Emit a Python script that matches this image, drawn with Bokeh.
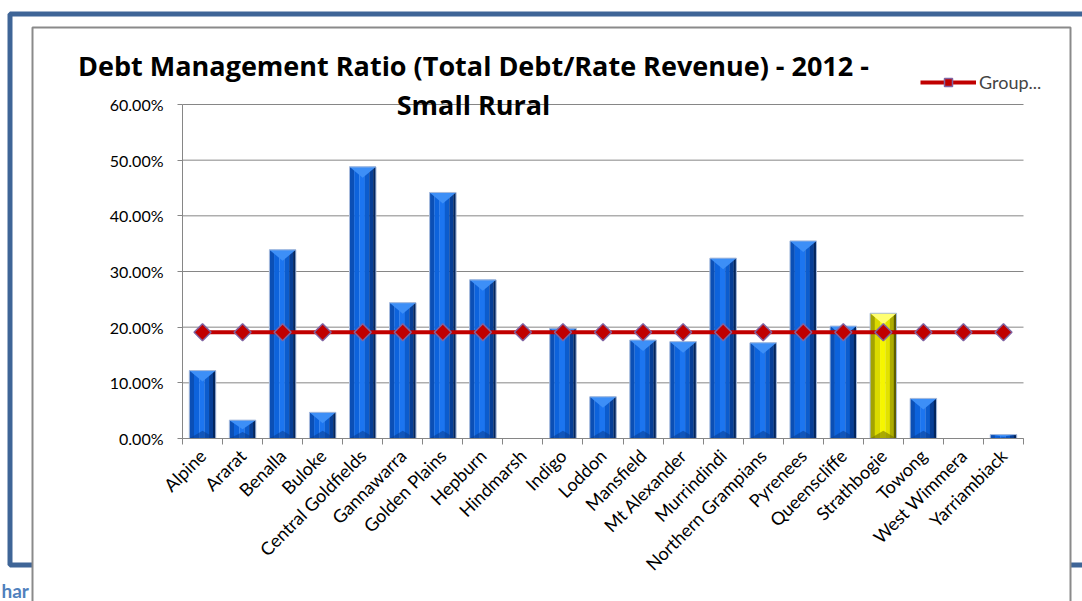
from math import pi

from bokeh.plotting import figure
from bokeh.models import (Range1d, FixedTicker, NumeralTickFormatter, BoxAnnotation,
                          Label, Legend, LegendItem, LinearAxis)
from bokeh.embed import file_html
from bokeh.resources import INLINE

# chart data
councils = ["Alpine", "Ararat", "Benalla", "Buloke", "Central Goldfields", "Gannawarra",
            "Golden Plains", "Hepburn", "Hindmarsh", "Indigo", "Loddon", "Mansfield",
            "Mt Alexander", "Murrindindi", "Northern Grampians", "Pyrenees", "Queenscliffe",
            "Strathbogie", "Towong", "West Wimmera", "Yarriambiack"]
debt_ratio = [0.122, 0.033, 0.339, 0.047, 0.488, 0.244, 0.442, 0.285, 0.0, 0.198, 0.075,
              0.177, 0.174, 0.324, 0.172, 0.355, 0.202, 0.225, 0.072, 0.0, 0.007]
group_average = [0.191, 0.191, 0.191, 0.191, 0.191, 0.191, 0.191, 0.191, 0.191, 0.191, 0.191,
                 0.191, 0.191, 0.191, 0.191, 0.191, 0.191, 0.191, 0.191, 0.191, 0.191]
y_ticks = [0.0, 0.1, 0.2, 0.3, 0.4, 0.5, 0.6]
highlight = "Strathbogie"

FONT = "Lato"
TITLE_FONT = "Open Sans"
AXIS_GREY = "#868686"
W, H = 1082, 601

n = len(councils)
centers = [i + 0.5 for i in range(n)]


# page pixels -> data units (plot area is 841 x 334 px, top-left at 182,104)
def px_x(px):
    return (px - 182) * n / 841


def px_y(py):
    return (438 - py) * 0.6 / 334


# the frame covers the whole canvas; axes sit at fixed data locations
p = figure(width=W, height=H, output_backend="svg", toolbar_location=None, title=None,
           x_range=Range1d(px_x(0), px_x(W)), y_range=Range1d(px_y(H), px_y(0)),
           x_axis_location=None, y_axis_location=None,
           min_border=0)
p.outline_line_color = None
p.xgrid.visible = False
p.ygrid.visible = False

# document frame and the chart area sitting on it
p.add_layout(BoxAnnotation(left=px_x(9.5), right=px_x(1300), top=px_y(13.5),
                           bottom=px_y(564.5), fill_color=None, line_color="#3f6597",
                           line_alpha=1.0, line_width=5, level="image"))
p.add_layout(BoxAnnotation(left=px_x(32), right=px_x(1070), top=px_y(27), bottom=px_y(900),
                           fill_color="white", fill_alpha=1.0, line_color="#8a8a8a",
                           line_alpha=1.0, line_width=2, level="image"))
# fragment of the document text peeking out behind the chart
p.add_layout(Label(x=px_x(1), y=px_y(590), text="har", text_align="left",
                   text_baseline="middle", text_font=FONT, text_font_size="19px",
                   text_font_style="bold", text_color="#4f81bd"))

# horizontal gridlines across the plot area
p.segment(x0=[0] * len(y_ticks), x1=[n] * len(y_ticks), y0=y_ticks, y1=y_ticks,
          line_color=AXIS_GREY, line_width=1)

# bevelled bars drawn as vertical shade bands
bar_w = 0.66
bands = [(-0.5, -0.32), (-0.32, -0.12), (-0.12, 0.08), (0.08, 0.25), (0.25, 0.4), (0.4, 0.5)]
blue_shades = ["#0b4fb5", "#0d63dc", "#1c75f0", "#0c5ccd", "#073f97", "#02255e"]
yellow_shades = ["#a3a300", "#dada00", "#f6f600", "#e2e200", "#acac00", "#5e5e00"]

for k, (a, b) in enumerate(bands):
    colors = [yellow_shades[k] if c == highlight else blue_shades[k] for c in councils]
    p.vbar(x=[c + (a + b) / 2 * bar_w for c in centers], width=(b - a) * bar_w + 0.005,
           top=debt_ratio, bottom=0, fill_color=colors, line_color=None)

bevel = 11 * 0.6 / 334
top_xs, top_ys, top_col, bot_xs, bot_ys, bot_col = [], [], [], [], [], []
for c, v, name in zip(centers, debt_ratio, councils):
    if v <= 0:
        continue
    d = min(bevel, v / 2)
    top_xs.append([c - bar_w / 2, c + bar_w / 2, c])
    top_ys.append([v, v, v - d])
    top_col.append("#ffff72" if name == highlight else "#3d8ff7")
    bot_xs.append([c - bar_w / 2, c + bar_w / 2, c])
    bot_ys.append([0, 0, d * 0.7])
    bot_col.append("#6e6e00" if name == highlight else "#0a3c8f")
p.patches(top_xs, top_ys, fill_color=top_col, line_color=None)
p.patches(bot_xs, bot_ys, fill_color=bot_col, fill_alpha=0.55, line_color=None)
p.vbar(x=[c for c, v in zip(centers, debt_ratio) if v > 0], width=bar_w,
       top=[v for v in debt_ratio if v > 0], bottom=0, fill_color=None,
       line_color="#a9bcdc", line_width=1)

# group average line
avg_line = p.line(centers, group_average, line_color="#c00000", line_width=4)
avg_mark = p.scatter(centers, group_average, marker="square", angle=pi / 4, size=12,
                     fill_color="#c00000", line_color="#8064a2", line_width=1.5)

legend = Legend(items=[LegendItem(label="Group...", renderers=[avg_line, avg_mark])],
                location=(920, H - 83 - 10), glyph_width=56, glyph_height=20,
                label_height=20, label_standoff=3, padding=0, margin=0, spacing=0,
                label_text_font=FONT, label_text_font_size="18px",
                border_line_color=None, background_fill_alpha=0)
p.add_layout(legend)

# title, two lines
p.add_layout(Label(x=px_x(473), y=px_y(65), text="Debt Management Ratio (Total Debt/Rate Revenue) - 2012 -",
                   text_align="center", text_baseline="middle", text_font=TITLE_FONT,
                   text_font_size="27px", text_font_style="bold", text_color="black"))
p.add_layout(Label(x=px_x(473), y=px_y(104), text="Small Rural",
                   text_align="center", text_baseline="middle", text_font=TITLE_FONT,
                   text_font_size="27px", text_font_style="bold", text_color="black"))

# axes
xaxis = LinearAxis(fixed_location=0, bounds=(0, n))
xaxis.ticker = FixedTicker(ticks=centers, minor_ticks=list(range(n + 1)))
xaxis.major_label_overrides = {c: name for c, name in zip(centers, councils)}
xaxis.major_label_orientation = pi / 4
xaxis.major_tick_line_color = None
xaxis.minor_tick_line_color = AXIS_GREY
xaxis.minor_tick_out = 6
xaxis.minor_tick_in = 0
xaxis.major_label_standoff = 8
xaxis.axis_line_color = AXIS_GREY
xaxis.major_label_text_font = FONT
xaxis.major_label_text_font_size = "18px"
xaxis.major_label_text_color = "black"
p.add_layout(xaxis, "below")

yaxis = LinearAxis(fixed_location=0, bounds=(0, 0.6))
yaxis.ticker = FixedTicker(ticks=y_ticks)
yaxis.formatter = NumeralTickFormatter(format="0.00%")
yaxis.minor_tick_line_color = None
yaxis.major_tick_out = 5
yaxis.major_tick_in = 0
yaxis.major_tick_line_color = AXIS_GREY
yaxis.axis_line_color = AXIS_GREY
yaxis.major_label_standoff = 14
yaxis.major_label_text_font = FONT
yaxis.major_label_text_font_size = "16px"
yaxis.major_label_text_color = "black"
p.add_layout(yaxis, "left")

open("out.html", "w").write(file_html(p, INLINE))
